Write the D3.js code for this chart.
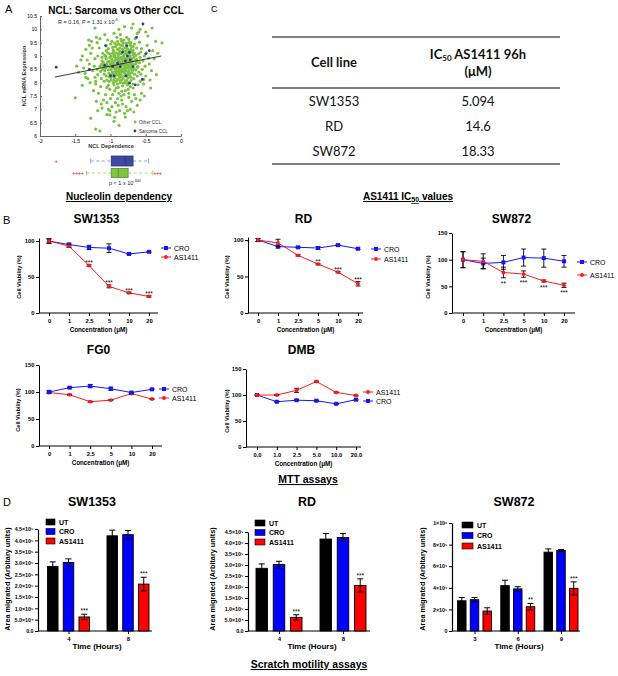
<!DOCTYPE html>
<html><head><meta charset="utf-8">
<script src="https://cdn.jsdelivr.net/npm/d3@7"></script>
<style>body{margin:0;background:#fff}svg{display:block}</style>
</head><body>
<svg id="c" width="618" height="676"></svg>
<script>
// ===================== DATA =====================
// Panel A scatter: [NCL dependence, NCL mRNA expression]
const scatterOther = [
[-0.85,8.70],[-0.92,8.55],[-0.78,8.90],[-0.88,9.10],[-0.95,8.30],[-0.70,8.60],[-1.02,8.80],[-0.81,8.40],[-0.74,9.20],[-0.99,9.00],
[-0.87,8.20],[-0.65,8.85],[-1.08,8.45],[-0.93,9.35],[-0.79,8.05],[-0.84,9.55],[-1.05,8.10],[-0.68,9.05],[-0.90,7.95],[-0.76,8.55],
[-1.12,8.95],[-0.60,8.40],[-0.97,8.65],[-0.83,9.25],[-0.72,7.85],[-1.15,8.60],[-0.89,8.85],[-0.63,9.30],[-1.00,9.45],[-0.80,8.25],
[-0.94,7.70],[-0.71,9.50],[-1.06,9.20],[-0.86,8.00],[-0.58,8.95],[-1.18,8.30],[-0.77,9.70],[-0.91,8.45],[-0.67,8.15],[-1.03,7.90],
[-0.82,8.75],[-0.96,9.15],[-0.73,8.35],[-1.10,8.75],[-0.88,7.60],[-0.64,8.70],[-1.22,8.90],[-0.85,9.40],[-0.99,8.20],[-0.75,8.00],
[-0.93,8.95],[-0.69,8.80],[-1.07,8.55],[-0.81,9.60],[-0.57,9.15],[-1.13,8.15],[-0.90,9.25],[-0.78,8.45],[-1.01,7.75],[-0.66,9.45],
[-0.84,8.10],[-0.95,8.80],[-0.72,9.00],[-1.16,9.30],[-0.87,8.50],[-0.62,8.25],[-1.04,9.60],[-0.79,7.70],[-0.97,8.40],[-0.70,9.35],
[-1.09,8.05],[-0.86,9.80],[-0.74,8.65],[-0.92,7.80],[-0.61,8.60],[-1.19,8.50],[-0.83,8.95],[-0.98,9.55],[-0.68,7.95],[-1.06,8.90],
[-0.89,8.30],[-0.76,9.10],[-1.14,7.85],[-0.80,8.60],[-0.94,9.05],[-0.65,9.65],[-1.02,8.35],[-0.85,7.50],[-0.71,8.20],[-1.11,9.10],
[-0.88,8.80],[-0.59,8.75],[-0.96,8.00],[-0.77,9.35],[-1.05,8.70],[-0.82,8.15],[-0.69,9.15],[-1.21,8.05],[-0.91,9.70],[-0.74,7.60],
[-1.25,8.45],[-1.30,8.70],[-1.28,9.10],[-1.24,7.70],[-1.32,8.15],[-1.38,8.55],[-1.35,9.25],[-1.42,8.85],[-1.27,9.55],[-1.20,7.30],
[-0.55,8.50],[-0.52,9.00],[-0.50,8.25],[-0.48,9.40],[-0.53,7.95],[-0.45,8.70],[-0.42,8.45],[-0.47,9.75],[-0.40,9.20],[-0.56,7.60],
[-0.38,8.90],[-0.44,8.10],[-0.36,9.55],[-0.50,9.90],[-0.58,10.00],[-0.62,9.85],[-0.70,10.05],[-0.88,10.00],[-0.95,9.85],[-1.08,9.80],
[-1.15,9.65],[-1.00,7.40],[-0.93,7.25],[-0.84,7.35],[-0.78,7.10],[-0.70,7.30],[-0.66,7.55],[-0.98,7.10],[-1.07,7.55],[-1.13,7.20],
[-0.87,6.95],[-0.80,6.85],[-0.95,6.55],[-0.74,7.45],[-1.03,7.00],[-0.62,7.15],[-0.89,7.15],[-0.68,7.80],[-1.17,7.60],[-1.10,7.35],
[-0.86,8.62],[-0.79,8.78],[-0.91,8.72],[-0.83,8.52],[-0.74,8.45],[-0.96,8.58],[-0.88,8.38],[-0.81,9.02],[-0.92,9.12],[-0.77,8.28],
[-0.99,8.48],[-0.84,8.88],[-0.72,8.72],[-1.04,8.62],[-0.89,9.02],[-0.76,9.28],[-0.94,8.18],[-0.80,8.92],[-0.67,8.52],[-1.01,9.08],
[-0.85,8.32],[-0.73,8.92],[-0.97,9.32],[-0.82,7.98],[-0.64,9.02],[-1.09,8.32],[-0.90,8.62],[-0.78,9.48],[-0.95,7.92],[-0.70,8.38],
[-1.12,8.82],[-0.87,9.18],[-0.75,8.18],[-0.93,8.42],[-0.63,8.88],[-1.00,8.58],[-0.83,9.38],[-0.71,8.08],[-1.06,9.38],[-0.89,7.82],
[-0.80,8.48],[-0.96,9.22],[-0.68,9.22],[-1.14,8.42],[-0.86,8.08],[-0.60,9.08],[-1.02,8.22],[-0.78,8.62],[-0.91,9.42],[-0.74,9.62],
[-1.18,9.00],[-0.84,7.68],[-0.66,8.32],[-0.98,8.78],[-0.77,8.88],[-1.05,7.82],[-0.92,8.28],[-0.62,8.58],[-0.81,9.18],[-1.10,8.62],
[-0.87,8.92],[-0.73,8.28],[-0.95,8.68],[-0.79,9.08],[-1.03,9.28],[-0.69,8.68],[-0.90,8.12],[-0.76,7.92],[-1.08,9.02],[-0.85,9.62],
[-0.57,8.32],[-0.54,8.82],[-0.59,9.52],[-0.61,7.92],[-0.51,8.62],[-0.56,9.28],[-0.46,8.92],[-0.53,8.12],[-0.49,9.12],[-0.58,8.05],
[-1.23,8.62],[-1.26,9.30],[-1.22,8.20],[-1.29,8.00],[-1.19,9.50],[-1.33,8.85],[-1.21,7.95],[-1.31,9.60],[-1.36,8.35],[-1.40,7.90],
[-0.88,6.40],[-1.05,6.80],[-0.92,6.90],[-0.76,6.95],[-0.83,7.20],[-1.01,6.95],[-0.72,7.00],[-0.67,6.90],[-1.18,6.95],[-0.58,7.35],
[-1.50,7.43],[-1.28,6.67],[-1.21,6.26],[-1.15,6.19],[-1.01,6.79],[-0.94,6.70],[-0.79,6.71],[-0.68,10.20],[-0.41,10.05],[-1.22,10.05],
[-0.27,9.49],[-0.33,9.10],[-1.48,8.62],[-1.45,8.40],[-1.40,9.00],[-1.30,9.40],[-0.80,10.10],[-0.60,9.90],[-1.35,8.20],[-1.20,9.70],
[-0.35,8.30],[-0.43,7.80],[-0.52,7.50],[-0.64,7.40],[-0.97,7.55],[-1.12,7.05],[-0.81,7.55],[-0.90,7.40],[-0.75,7.75],[-1.05,7.25],
[-0.83,8.66],[-0.90,8.92],[-0.76,8.82],[-0.98,8.88],[-0.71,8.52],[-0.87,9.30],[-0.94,8.52],[-0.80,8.35],[-1.03,8.48],[-0.67,8.95],
[-0.85,9.08],[-0.79,8.55],[-0.92,8.05],[-0.73,9.10],[-1.00,8.70],[-0.88,8.45],[-0.64,8.48],[-0.97,9.10],[-0.82,8.82],[-0.75,8.38],
[-1.07,8.98],[-0.86,8.78],[-0.70,8.90],[-0.93,8.85],[-0.78,9.18],[-1.02,8.05],[-0.84,8.42],[-0.66,8.70],[-0.96,8.35],[-0.81,8.70],
[-0.89,8.70],[-0.74,8.78],[-1.11,8.50],[-0.90,9.55],[-0.77,8.10],[-0.99,8.10],[-0.86,8.40],[-0.69,8.45],[-0.94,9.48],[-0.72,9.40],
[-0.83,7.88],[-1.04,8.78],[-0.88,9.45],[-0.80,8.80],[-0.63,8.78],[-0.95,8.98],[-0.77,8.68],[-1.09,8.70],[-0.91,8.35],[-0.73,8.58],
[-0.85,8.95],[-0.98,8.30],[-0.68,9.35],[-0.82,9.48],[-1.06,8.25],[-0.76,9.00],[-0.93,8.62],[-0.87,8.25],[-0.71,9.25],[-1.01,8.95],
[-0.80,9.30],[-0.95,8.10],[-0.66,9.10],[-0.84,8.22],[-1.13,8.68],[-0.89,8.55],[-0.74,9.50],[-0.97,8.75],[-0.79,8.00],[-1.04,9.12]
];
const scatterSarcoma = [
[-1.77,8.58],[-0.54,10.20],[-1.07,9.39],[-0.83,9.14],[-0.73,9.14],[-0.63,9.70],[-0.45,9.20],[-0.50,9.08],[-0.79,8.82],[-0.90,8.74],
[-0.97,8.60],[-0.72,8.85],[-0.68,8.60],[-1.08,8.65],[-1.00,8.26],[-0.78,8.25],[-0.73,7.98],[-0.76,9.00],[-0.77,9.39],[-0.65,7.92],
[-1.30,8.50],[-0.95,8.25],[-0.55,8.12],[-0.86,8.60]
];
const regressionLine = [[-1.79, 8.21], [-0.28, 9.00]];
const scatterXTicks = [-2, -1.5, -1, -0.5, 0];
const scatterXLabels = ['-2', '-1.5', '-1', '-0.5', '0'];
const scatterYTicks = [6, 6.5, 7, 7.5, 8, 8.5, 9, 9.5, 10, 10.5];
const scatterYLabels = ['6', '6.5', '7', '7.5', '8', '8.5', '9', '9.5', '10', '10.5'];
const scatterLegend = ['Other CCL', 'Sarcoma CCL'];
// box plots: [whiskerLow, q1, median, q3, whiskerHigh]
const boxSarcoma = [-1.28, -0.99, -0.79, -0.68, -0.46];
const boxOther = [-1.34, -0.99, -0.89, -0.75, -0.40];
const outliersSarcoma = [-1.77];
const outliersOther = [-1.52, -1.48, -1.44, -1.40, -0.37, -0.33, -0.29];

// Panel C table
const tableCellLines = ['SW1353', 'RD', 'SW872'];
const tableIC50 = ['5.094', '14.6', '18.33'];

// Panel B MTT assays
const concLabels = ['0', '1', '2.5', '5', '10', '20'];
const concLabelsDMB = ['0.0', '1.0', '2.5', '5.0', '10.0', '20.0'];
const sw1353CRO = [100, 95, 91, 90, 82, 85];
const sw1353CROErr = [3, 2, 3, 6, 1, 1];
const sw1353AS = [100, 93, 66, 37, 28, 23];
const sw1353ASErr = [3, 2, 1, 2, 1, 1];
const sw1353Stars = ['', '', '***', '***', '***', '***'];
const rdCRO = [100, 91, 90, 89, 93, 88];
const rdCROErr = [2, 2, 1, 2, 1, 1];
const rdAS = [100, 96, 79, 67, 56, 40];
const rdASErr = [2, 5, 1, 1, 1, 3];
const rdStars = ['', '', '', '**', '***', '***'];
const sw872CRO = [100, 93, 95, 104, 103, 97];
const sw872CROErr = [15, 10, 13, 16, 17, 11];
const sw872AS = [100, 97, 76, 73, 60, 52];
const sw872ASErr = [15, 14, 10, 6, 2, 4];
const sw872Stars = ['', '', '**', '***', '***', '***'];
const fg0CRO = [100, 108, 111, 106, 99, 105];
const fg0CROErr = [3, 1, 3, 3, 1, 1];
const fg0AS = [99, 95, 82, 85, 97, 87];
const fg0ASErr = [1, 1, 1, 1, 1, 1];
const dmbAS = [100, 100, 109, 126, 105, 99];
const dmbASErr = [0, 1, 4, 1, 1, 1];
const dmbCRO = [100, 87, 90, 89, 83, 91];
const dmbCROErr = [1, 1, 1, 1, 1, 1];
const viabTicks100 = [0, 50, 100];
const viabTicks150 = [0, 50, 100, 150];

// Panel D scratch motility assays
const barGroups = ['UT', 'CRO', 'AS1411'];
const sw1353Times = ['4', '8'];
const sw1353UT = [2.85e5, 4.20e5];
const sw1353UTErr = [0.20e5, 0.25e5];
const sw1353CROb = [3.02e5, 4.25e5];
const sw1353CRObErr = [0.16e5, 0.18e5];
const sw1353ASb = [0.62e5, 2.07e5];
const sw1353ASbErr = [0.12e5, 0.30e5];
const sw1353BarStars = ['***', '***'];
const rdTimes = ['4', '8'];
const rdUT = [2.85e5, 4.18e5];
const rdUTErr = [0.20e5, 0.25e5];
const rdCROb = [3.02e5, 4.25e5];
const rdCRObErr = [0.15e5, 0.18e5];
const rdASb = [0.62e5, 2.07e5];
const rdASbErr = [0.12e5, 0.30e5];
const rdBarStars = ['***', '***'];
const sw872Times = ['3', '6', '9'];
const sw872UT = [2.80e5, 4.20e5, 7.30e5];
const sw872UTErr = [0.30e5, 0.50e5, 0.30e5];
const sw872CROb = [2.90e5, 3.90e5, 7.45e5];
const sw872CRObErr = [0.20e5, 0.20e5, 0.10e5];
const sw872ASb = [1.85e5, 2.25e5, 3.95e5];
const sw872ASbErr = [0.30e5, 0.30e5, 0.60e5];
const sw872BarStars = ['', '**', '***'];
const areaTicks45 = [0, 0.5e5, 1e5, 1.5e5, 2e5, 2.5e5, 3e5, 3.5e5, 4e5, 4.5e5];
const areaLabels45 = ['0.0', '5.0×10⁴', '1.0×10⁵', '1.5×10⁵', '2.0×10⁵', '2.5×10⁵', '3.0×10⁵', '3.5×10⁵', '4.0×10⁵', '4.5×10⁵'];
const areaTicks1M = [0, 2e5, 4e5, 6e5, 8e5, 1e6];
const areaLabels1M = ['0', '2×10⁵', '4×10⁵', '6×10⁵', '8×10⁵', '1×10⁶'];

// ===================== DRAWING =====================
const svg = d3.select('#c');
const ARIAL = 'Liberation Sans, Arial, sans-serif';
const CAL = 'Lato, Carlito, sans-serif';
const BLUE = '#1414ff', RED = '#ff1a1a';

function txt(x, y, s, o = {}) {
  const t = svg.append('text').attr('x', x).attr('y', y).text(s)
    .attr('font-family', o.family || ARIAL).attr('font-size', o.size || 10)
    .attr('font-weight', o.weight || 'normal').attr('text-anchor', o.anchor || 'start')
    .attr('fill', o.fill || '#000');
  if (o.rotate) t.attr('transform', `rotate(-90,${x},${y})`);
  if (o.underline) t.attr('text-decoration', 'underline');
  return t;
}
function styleAxis(g, size, weight) {
  g.selectAll('text').attr('font-family', ARIAL).attr('font-size', size).attr('font-weight', weight || 'bold').attr('fill', '#000');
  g.selectAll('line').attr('stroke', '#000');
  g.selectAll('path').attr('stroke', '#000');
}

// ---------- Panel letters & captions ----------
txt(5, 13, 'A', {size: 11});
txt(211, 12, 'C', {size: 9});
txt(3, 224, 'B', {size: 11});
txt(3, 506, 'D', {size: 11});
txt(119, 200, 'Nucleolin dependency', {size: 10, weight: 'bold', anchor: 'middle', underline: true});
const cap = txt(408, 200, '', {size: 10, weight: 'bold', anchor: 'middle', underline: true});
cap.append('tspan').text('AS1411 IC');
cap.append('tspan').text('50').attr('font-size', 7).attr('dy', 2);
cap.append('tspan').text(' values').attr('dy', -2);
txt(308, 483, 'MTT assays', {size: 10.5, weight: 'bold', anchor: 'middle', underline: true});
txt(309, 668, 'Scratch motility assays', {size: 10.5, weight: 'bold', anchor: 'middle', underline: true});

// ---------- Panel A scatter ----------
(function () {
  const sx = d3.scaleLinear().domain([-2, 0]).range([40, 181]);
  const sy = d3.scaleLinear().domain([6, 10.5]).range([136, 16]);
  txt(116, 14, 'NCL: Sarcoma vs Other CCL', {size: 10, weight: 'bold', anchor: 'middle'});
  const gx = svg.append('g').attr('transform', 'translate(0,136)')
    .call(d3.axisBottom(sx).tickValues(scatterXTicks).tickFormat((d, i) => scatterXLabels[i]).tickSize(-2).tickSizeOuter(0).tickPadding(3));
  styleAxis(gx, 5, 'normal');
  gx.selectAll('path,line').attr('stroke', '#666');
  const gy = svg.append('g').attr('transform', 'translate(40,0)')
    .call(d3.axisLeft(sy).tickValues(scatterYTicks).tickFormat((d, i) => scatterYLabels[i]).tickSize(-2).tickSizeOuter(0).tickPadding(3));
  styleAxis(gy, 5, 'normal');
  gy.selectAll('path,line').attr('stroke', '#666');
  txt(26, 76, 'NCL mRNA Expression', {size: 5.5, weight: 'bold', anchor: 'middle', rotate: true, fill: '#333'});
  txt(111, 148, 'NCL Dependence', {size: 5.5, weight: 'bold', anchor: 'middle', fill: '#333'});
  svg.append('g').selectAll('circle').data(scatterOther).join('circle')
    .attr('cx', d => sx(d[0])).attr('cy', d => sy(d[1])).attr('r', 1.6).attr('fill', '#7dc242');
  svg.append('g').selectAll('circle').data(scatterSarcoma).join('circle')
    .attr('cx', d => sx(d[0])).attr('cy', d => sy(d[1])).attr('r', 1.4).attr('fill', '#2b3a9e');
  svg.append('line').attr('x1', sx(regressionLine[0][0])).attr('y1', sy(regressionLine[0][1]))
    .attr('x2', sx(regressionLine[1][0])).attr('y2', sy(regressionLine[1][1])).attr('stroke', '#222').attr('stroke-width', 0.9);
  const r = txt(58, 23.5, 'R = 0.16, P = 1.31 x 10', {size: 5.5, fill: '#222'});
  r.append('tspan').text('-6').attr('font-size', 3.8).attr('dy', -2.5);
  // legend
  const lc = ['#7dc242', '#2b3a9e'];
  scatterLegend.forEach((s, i) => {
    svg.append('circle').attr('cx', 135).attr('cy', 122 + i * 9).attr('r', 1.4).attr('fill', lc[i]);
    txt(139, 124 + i * 9, s, {size: 4.6, fill: '#333'});
  });
  // box plots
  function box(b, outl, cy, h, fill, stroke, wcol) {
    svg.append('line').attr('x1', sx(b[0])).attr('x2', sx(b[1])).attr('y1', cy).attr('y2', cy)
      .attr('stroke', wcol).attr('stroke-width', 1.2).attr('stroke-dasharray', '3,2.5');
    svg.append('line').attr('x1', sx(b[3])).attr('x2', sx(b[4])).attr('y1', cy).attr('y2', cy)
      .attr('stroke', wcol).attr('stroke-width', 1.2).attr('stroke-dasharray', '3,2.5');
    [b[0], b[4]].forEach(v => svg.append('line').attr('x1', sx(v)).attr('x2', sx(v)).attr('y1', cy - 2.5).attr('y2', cy + 2.5).attr('stroke', wcol).attr('stroke-width', 1));
    svg.append('rect').attr('x', sx(b[1])).attr('y', cy - h / 2).attr('width', sx(b[3]) - sx(b[1])).attr('height', h)
      .attr('fill', fill).attr('stroke', stroke).attr('stroke-width', 0.8);
    svg.append('line').attr('x1', sx(b[2])).attr('x2', sx(b[2])).attr('y1', cy - h / 2).attr('y2', cy + h / 2).attr('stroke', stroke).attr('stroke-width', 0.8);
    outl.forEach(v => txt(sx(v), cy + 2.2, '+', {size: 6, weight: 'bold', anchor: 'middle', fill: '#ff3b3b'}));
  }
  box(boxSarcoma, outliersSarcoma, 161, 10, '#4048a0', '#2e3578', '#8fa2e0');
  box(boxOther, outliersOther, 173, 9, '#80c443', '#4f8f22', '#a6d87a');
  const p = txt(109, 184.5, 'p < 1 x 10', {size: 5.5, fill: '#222'});
  p.append('tspan').text('-300').attr('font-size', 3.8).attr('dy', -2.5);
})();

// ---------- Panel C table ----------
(function () {
  const x0 = 272, x1 = 560, cCell = 334, cVal = 478;
  [37, 88, 164].forEach(y => svg.append('line').attr('x1', x0).attr('x2', x1).attr('y1', y).attr('y2', y).attr('stroke', '#555').attr('stroke-width', 1.6));
  txt(cCell, 67, 'Cell line', {family: CAL, size: 13, weight: 'bold', anchor: 'middle', fill: '#111'});
  const h = txt(cVal, 59, 'IC', {family: CAL, size: 13, weight: 'bold', anchor: 'middle', fill: '#111'});
  h.append('tspan').text('50').attr('font-size', 8).attr('dy', 2);
  h.append('tspan').text(' AS1411 96h').attr('dy', -2);
  txt(cVal, 76, '(μM)', {family: CAL, size: 13, weight: 'bold', anchor: 'middle', fill: '#111'});
  const ry = d3.scalePoint().domain(tableCellLines).range([105.5, 155.5]);
  tableCellLines.forEach((c, i) => {
    txt(cCell, ry(c), c, {family: CAL, size: 13, anchor: 'middle', fill: '#111'});
    txt(cVal, ry(c), tableIC50[i], {family: CAL, size: 13, anchor: 'middle', fill: '#111'});
  });
})();

// ---------- Panel B line charts ----------
function lineChart(c) {
  const x = d3.scalePoint().domain(c.labels).range([c.xFirst, c.xLast]);
  const y = d3.scaleLinear().domain([0, c.yMax]).range([c.yZero, c.yZero - c.yMax * c.ppu]);
  txt((c.yAxisX + c.xEnd) / 2 - 2, c.titleY, c.title, {size: 12, weight: 'bold', anchor: 'middle'});
  const gy = svg.append('g').attr('transform', `translate(${c.yAxisX},0)`)
    .call(d3.axisLeft(y).tickValues(c.yTicks).tickSize(3).tickSizeOuter(0).tickPadding(1.5));
  styleAxis(gy, 5.8);
  const gx = svg.append('g').attr('transform', `translate(0,${c.yZero})`)
    .call(d3.axisBottom(x).tickSize(3).tickSizeOuter(0).tickPadding(3));
  styleAxis(gx, 5.8);
  gx.select('.domain').remove();
  svg.append('line').attr('x1', c.yAxisX).attr('x2', c.xEnd).attr('y1', c.yZero).attr('y2', c.yZero).attr('stroke', '#000');
  txt((c.yAxisX + c.xEnd) / 2, c.yZero + 18.5, 'Concentration (', {size: 6.3, weight: 'bold', anchor: 'middle'})
    .append('tspan').text('μM)');
  txt(c.yLabelX, c.yZero - 36, 'Cell Viability (%)', {size: 5.6, weight: 'bold', anchor: 'middle', rotate: true});
  c.series.forEach(s => {
    const col = s.name === 'CRO' ? BLUE : RED;
    svg.append('path').datum(s.values).attr('fill', 'none').attr('stroke', col).attr('stroke-width', 1)
      .attr('d', d3.line().x((d, i) => x(c.labels[i])).y(d => y(d)));
    s.values.forEach((v, i) => {
      const e = s.err[i], cx = x(c.labels[i]);
      if (e > 0) {
        svg.append('line').attr('x1', cx).attr('x2', cx).attr('y1', y(v - e)).attr('y2', y(v + e)).attr('stroke', '#000').attr('stroke-width', 0.9);
        [v - e, v + e].forEach(w => svg.append('line').attr('x1', cx - 2.5).attr('x2', cx + 2.5).attr('y1', y(w)).attr('y2', y(w)).attr('stroke', '#000').attr('stroke-width', 0.9));
      }
    });
    s.values.forEach((v, i) => {
      const cx = x(c.labels[i]);
      if (s.name === 'CRO') svg.append('rect').attr('x', cx - 2).attr('y', y(v) - 2).attr('width', 4).attr('height', 4).attr('fill', col);
      else svg.append('circle').attr('cx', cx).attr('cy', y(v)).attr('r', 1.9).attr('fill', col);
    });
    if (s.stars) s.values.forEach((v, i) => {
      if (!s.stars[i]) return;
      const cx = x(c.labels[i]);
      const yy = c.starsBelow ? y(v - s.err[i]) + 8 : y(v + s.err[i]) + 0.5;
      txt(cx, yy, s.stars[i], {size: 6.5, anchor: 'middle'});
    });
  });
  c.legend.forEach((name, i) => {
    const col = name === 'CRO' ? BLUE : RED;
    const ly = c.legY[i];
    svg.append('line').attr('x1', c.legX - 5).attr('x2', c.legX + 5).attr('y1', ly).attr('y2', ly).attr('stroke', col).attr('stroke-width', 1);
    if (name === 'CRO') svg.append('rect').attr('x', c.legX - 2).attr('y', ly - 2).attr('width', 4).attr('height', 4).attr('fill', col);
    else svg.append('circle').attr('cx', c.legX).attr('cy', ly).attr('r', 1.9).attr('fill', col);
    txt(c.legX + 8, ly + 2.5, name, {size: 7});
  });
}
lineChart({title: 'SW1353', titleY: 223, labels: concLabels, yAxisX: 39, xFirst: 49, xLast: 149, xEnd: 158, yZero: 313, ppu: 0.72, yMax: 104, yTicks: viabTicks100, yLabelX: 21,
  series: [{name: 'CRO', values: sw1353CRO, err: sw1353CROErr}, {name: 'AS1411', values: sw1353AS, err: sw1353ASErr, stars: sw1353Stars}],
  legend: ['CRO', 'AS1411'], legX: 166, legY: [248, 257]});
lineChart({title: 'RD', titleY: 223, labels: concLabels, yAxisX: 248, xFirst: 258, xLast: 358, xEnd: 363, yZero: 313, ppu: 0.73, yMax: 104, yTicks: viabTicks100, yLabelX: 229,
  series: [{name: 'CRO', values: rdCRO, err: rdCROErr}, {name: 'AS1411', values: rdAS, err: rdASErr, stars: rdStars}],
  legend: ['CRO', 'AS1411'], legX: 376, legY: [249, 259]});
lineChart({title: 'SW872', titleY: 223, labels: concLabels, yAxisX: 452, xFirst: 463, xLast: 564, xEnd: 575, yZero: 313, ppu: 0.533, yMax: 150, yTicks: viabTicks150, yLabelX: 430, starsBelow: true,
  series: [{name: 'CRO', values: sw872CRO, err: sw872CROErr}, {name: 'AS1411', values: sw872AS, err: sw872ASErr, stars: sw872Stars}],
  legend: ['CRO', 'AS1411'], legX: 582, legY: [262, 275]});
lineChart({title: 'FG0', titleY: 354, labels: concLabels, yAxisX: 39, xFirst: 49, xLast: 152, xEnd: 162, yZero: 446, ppu: 0.54, yMax: 150, yTicks: viabTicks150, yLabelX: 20,
  series: [{name: 'AS1411', values: fg0AS, err: fg0ASErr}, {name: 'CRO', values: fg0CRO, err: fg0CROErr}],
  legend: ['CRO', 'AS1411'], legX: 164, legY: [389, 398]});
lineChart({title: 'DMB', titleY: 354, labels: concLabelsDMB, yAxisX: 246, xFirst: 257, xLast: 356, xEnd: 361, yZero: 447, ppu: 0.52, yMax: 150, yTicks: viabTicks150, yLabelX: 229,
  series: [{name: 'CRO', values: dmbCRO, err: dmbCROErr}, {name: 'AS1411', values: dmbAS, err: dmbASErr}],
  legend: ['AS1411', 'CRO'], legX: 368, legY: [392, 401]});

// ---------- Panel D bar charts ----------
const BARCOL = {UT: '#000000', CRO: '#0000ff', AS1411: '#ff0000'};
function barChart(c) {
  const gxs = d3.scalePoint().domain(c.times).range([c.gFirst, c.gLast]);
  const inner = d3.scaleBand().domain(barGroups).range([-c.half, c.half]).paddingInner(0.33);
  const y = d3.scaleLinear().domain([0, c.yMax]).range([631, c.yTop]);
  txt(c.titleX, 506, c.title, {size: 12.5, weight: 'bold', anchor: 'middle'});
  const gy = svg.append('g').attr('transform', `translate(${c.yAxisX},0)`)
    .call(d3.axisLeft(y).tickValues(c.ticks).tickFormat((d, i) => c.tickLabels[i]).tickSize(3).tickSizeOuter(0).tickPadding(1.5));
  styleAxis(gy, 5.3);
  gy.select('.domain').attr('stroke-width', 1.2);
  const gx = svg.append('g').attr('transform', 'translate(0,631)')
    .call(d3.axisBottom(gxs).tickSize(3).tickSizeOuter(0).tickPadding(2.5));
  styleAxis(gx, 6);
  gx.select('.domain').remove();
  svg.append('line').attr('x1', c.yAxisX).attr('x2', c.xEnd).attr('y1', 631).attr('y2', 631).attr('stroke', '#000').attr('stroke-width', 1.2);
  txt(c.titleX + 5, 649, 'Time (Hours)', {size: 8, weight: 'bold', anchor: 'middle'});
  txt(c.yLabelX, 579, 'Area migrated (Arbitary units)', {size: 7.3, weight: 'bold', anchor: 'middle', rotate: true});
  c.series.forEach((s, k) => {
    const g = barGroups[k];
    s.values.forEach((v, i) => {
      const bx = gxs(c.times[i]) + inner(g);
      const bw = inner.bandwidth();
      svg.append('rect').attr('x', bx).attr('y', y(v)).attr('width', bw).attr('height', 631 - y(v))
        .attr('fill', BARCOL[g]).attr('stroke', '#000').attr('stroke-width', 0.9);
      const cx = bx + bw / 2, e = s.err[i];
      svg.append('line').attr('x1', cx).attr('x2', cx).attr('y1', y(v - e)).attr('y2', y(v + e)).attr('stroke', '#000').attr('stroke-width', 1);
      [v - e, v + e].forEach(w => svg.append('line').attr('x1', cx - 3).attr('x2', cx + 3).attr('y1', y(w)).attr('y2', y(w)).attr('stroke', '#000').attr('stroke-width', 1));
      if (s.stars && s.stars[i]) txt(cx, y(v + e) - 1, s.stars[i], {size: 6.5, anchor: 'middle'});
    });
  });
  barGroups.forEach((g, i) => {
    const ly = c.legY + i * c.legStep;
    svg.append('rect').attr('x', c.legX).attr('y', ly - 3).attr('width', c.legW).attr('height', 6).attr('fill', BARCOL[g]).attr('stroke', '#000').attr('stroke-width', 0.6);
    txt(c.legX + c.legW + 4, ly + 2.6, g, {size: 7, weight: 'bold'});
  });
}
barChart({title: 'SW1353', titleX: 92, times: sw1353Times, gFirst: 68.5, gLast: 128, half: 21, yAxisX: 38, xEnd: 152, yMax: 4.5e5, yTop: 529, ticks: areaTicks45, tickLabels: areaLabels45, yLabelX: 10,
  series: [{values: sw1353UT, err: sw1353UTErr}, {values: sw1353CROb, err: sw1353CRObErr}, {values: sw1353ASb, err: sw1353ASbErr, stars: sw1353BarStars}],
  legX: 46, legW: 9, legY: 522, legStep: 9.5});
barChart({title: 'RD', titleX: 307, times: rdTimes, gFirst: 279, gLast: 343, half: 23, yAxisX: 248, xEnd: 370, yMax: 4.5e5, yTop: 532, ticks: areaTicks45, tickLabels: areaLabels45, yLabelX: 215,
  series: [{values: rdUT, err: rdUTErr}, {values: rdCROb, err: rdCRObErr}, {values: rdASb, err: rdASbErr, stars: rdBarStars}],
  legX: 255, legW: 10, legY: 523, legStep: 9.5});
barChart({title: 'SW872', titleX: 514, times: sw872Times, gFirst: 474.5, gLast: 561, half: 17, yAxisX: 452, xEnd: 580, yMax: 1e6, yTop: 523, ticks: areaTicks1M, tickLabels: areaLabels1M, yLabelX: 425,
  series: [{values: sw872UT, err: sw872UTErr}, {values: sw872CROb, err: sw872CRObErr}, {values: sw872ASb, err: sw872ASbErr, stars: sw872BarStars}],
  legX: 462, legW: 11, legY: 525, legStep: 10.5});
</script>
</body></html>
